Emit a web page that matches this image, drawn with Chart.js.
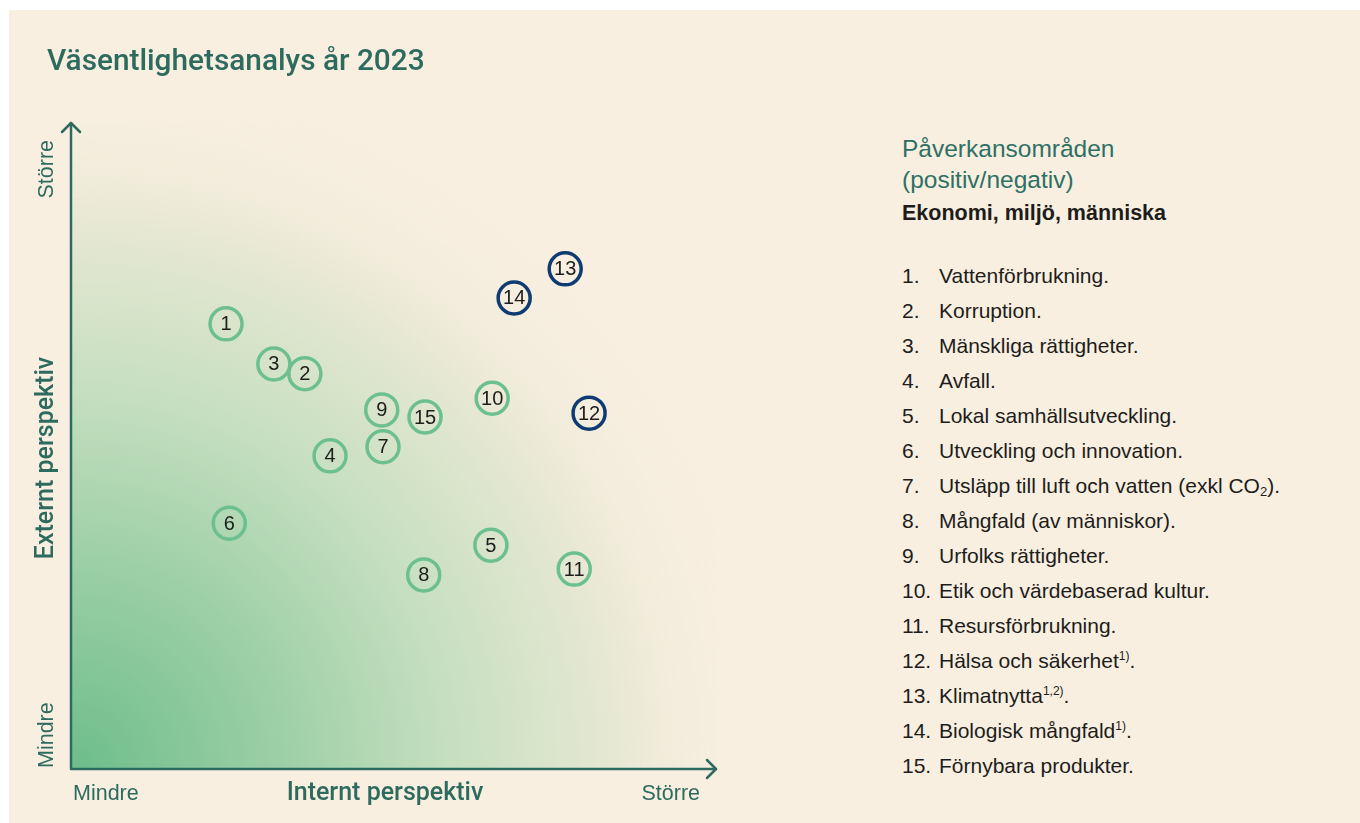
<!DOCTYPE html>
<html>
<head>
<meta charset="utf-8">
<script src="https://cdn.jsdelivr.net/npm/chart.js@4.4.1/dist/chart.umd.min.js"></script>
<style>
  body { margin: 0; width: 1360px; height: 823px; overflow: hidden; background: #fff;
         font-family: "Liberation Sans", Arial, sans-serif; }
  #panel { position: absolute; left: 9px; top: 10px; right: 0; bottom: 0; background: #f8efe0; }
  #matrix { position: absolute; left: 0; top: 0; }
  h1 { position: absolute; left: 47px; top: 43px; margin: 0; font-size: 29.8px; line-height: 34px;
       font-weight: 500; font-family: Roboto, "Liberation Sans", sans-serif; color: #2e6b5f; }
  #legend { position: absolute; left: 902px; top: 133px; width: 450px; }
  #legend .head { font-size: 24.5px; line-height: 31px; color: #2f7065; }
  #legend .sub { margin-top: 6px; font-size: 21.5px; line-height: 24px; font-weight: bold; color: #1d1d1b; }
  #legend ol { list-style: none; margin: 33px 0 0 0; padding: 0; }
  #legend li { font-size: 21px; line-height: 35px; height: 35px; color: #1d1d1b; position: relative; padding-left: 37px; white-space: nowrap; }
  #legend li span.n { position: absolute; left: 0; }
  #legend sup { font-size: 12px; vertical-align: 8px; line-height: 0; }
  #legend sub { font-size: 13px; vertical-align: -3px; line-height: 0; }
</style>
</head>
<body>
<div id="panel"></div>
<canvas id="matrix" width="860" height="823"></canvas>
<h1>Väsentlighetsanalys år 2023</h1>
<div id="legend">
  <div class="head">Påverkansområden<br>(positiv/negativ)</div>
  <div class="sub">Ekonomi, miljö, människa</div>
  <ol id="items"></ol>
</div>
<script>
// påverkansområden, numbered 1..15
const areaNames = [
  'Vattenförbrukning.',
  'Korruption.',
  'Mänskliga rättigheter.',
  'Avfall.',
  'Lokal samhällsutveckling.',
  'Utveckling och innovation.',
  'Utsläpp till luft och vatten (exkl CO<sub>2</sub>).',
  'Mångfald (av människor).',
  'Urfolks rättigheter.',
  'Etik och värdebaserad kultur.',
  'Resursförbrukning.',
  'Hälsa och säkerhet<sup>1)</sup>.',
  'Klimatnytta<sup>1,2)</sup>.',
  'Biologisk mångfald<sup>1)</sup>.',
  'Förnybara produkter.'
];
const areaNumbers = ['1','2','3','4','5','6','7','8','9','10','11','12','13','14','15'];
// internt perspektiv (0 = mindre, 10 = större)
const internal = [2.40, 3.62, 3.14, 4.01, 6.50, 2.45, 4.83, 5.46, 4.81, 6.52, 7.79, 8.02, 7.65, 6.86, 5.48];
// externt perspektiv (0 = mindre, 10 = större)
const external = [6.88, 6.11, 6.26, 4.84, 3.46, 3.80, 4.98, 3.00, 5.55, 5.73, 3.09, 5.50, 7.73, 7.28, 5.44];
// highlighted (navy) areas
const highlighted = [false, false, false, false, false, false, false, false, false, false, false, true, true, true, false];
const axisEnds = ['Mindre', 'Större'];

const GREEN = '#6cc08f';
const NAVY = '#0e3c72';
const AXIS = '#2e6b5f';

document.getElementById('items').innerHTML = areaNames
  .map((name, i) => `<li><span class="n">${areaNumbers[i]}.</span>${name}</li>`)
  .join('');

const backdrop = {
  id: 'backdrop',
  beforeDatasetsDraw(chart) {
    const { ctx, chartArea: a } = chart;
    ctx.save();
    const g = ctx.createRadialGradient(a.left, a.bottom, 0, a.left, a.bottom, 690);
    g.addColorStop(0, '#6dbd8b');
    g.addColorStop(0.3, '#9ccfa6');
    g.addColorStop(0.55, '#c6dfc0');
    g.addColorStop(0.8, '#e8e8d4');
    g.addColorStop(1, 'rgba(248,239,224,0)');
    ctx.fillStyle = g;
    ctx.fillRect(a.left, a.top, a.right - a.left, a.bottom - a.top);

    // axes with arrow heads
    ctx.strokeStyle = AXIS;
    ctx.lineWidth = 2.5;
    ctx.lineCap = 'round';
    ctx.lineJoin = 'round';
    ctx.beginPath();
    ctx.moveTo(a.left, a.top + 1);
    ctx.lineTo(a.left, a.bottom);
    ctx.lineTo(a.right - 1, a.bottom);
    ctx.stroke();
    ctx.beginPath();
    ctx.moveTo(a.left - 9, a.top + 10);
    ctx.lineTo(a.left, a.top + 1);
    ctx.lineTo(a.left + 9, a.top + 10);
    ctx.moveTo(a.right - 10, a.bottom - 9);
    ctx.lineTo(a.right - 1, a.bottom);
    ctx.lineTo(a.right - 10, a.bottom + 9);
    ctx.stroke();

    // axis texts
    ctx.fillStyle = AXIS;
    ctx.textBaseline = 'middle';
    ctx.font = '21.5px "Liberation Sans", Arial, sans-serif';
    ctx.textAlign = 'left';
    ctx.fillText(axisEnds[0], a.left + 2, a.bottom + 25);
    ctx.textAlign = 'right';
    ctx.fillText(axisEnds[1], a.right - 17, a.bottom + 25);
    ctx.textAlign = 'center';
    ctx.font = '500 25px Roboto, "Liberation Sans", sans-serif';
    ctx.fillText('Internt perspektiv', 385, a.bottom + 25);

    ctx.translate(47, 0);
    ctx.rotate(-Math.PI / 2);
    ctx.font = '21.5px "Liberation Sans", Arial, sans-serif';
    ctx.textAlign = 'left';
    ctx.fillText(axisEnds[0], -a.bottom + 1, 0);
    ctx.textAlign = 'right';
    ctx.fillText(axisEnds[1], -140, 0);
    ctx.textAlign = 'center';
    ctx.font = '500 25px Roboto, "Liberation Sans", sans-serif';
    ctx.fillText('Externt perspektiv', -458, 0);
    ctx.restore();
  }
};

const numbers = {
  id: 'numbers',
  afterDatasetsDraw(chart) {
    const { ctx } = chart;
    const meta = chart.getDatasetMeta(0);
    ctx.save();
    ctx.fillStyle = '#1d1d1b';
    ctx.font = '20px "Liberation Sans", Arial, sans-serif';
    ctx.textAlign = 'center';
    ctx.textBaseline = 'middle';
    meta.data.forEach((pt, i) => {
      ctx.fillText(areaNumbers[i], pt.x, pt.y + 1);
    });
    ctx.restore();
  }
};

new Chart(document.getElementById('matrix'), {
  type: 'scatter',
  data: {
    datasets: [{
      data: internal.map((x, i) => ({ x: x, y: external[i] })),
      pointRadius: 16,
      pointHoverRadius: 16,
      pointBorderWidth: 3.5,
      pointBackgroundColor: 'rgba(0,0,0,0)',
      pointBorderColor: highlighted.map(h => h ? NAVY : GREEN),
      clip: false
    }]
  },
  options: {
    responsive: false,
    animation: false,
    layout: { padding: { left: 71, top: 122, right: 143, bottom: 54 } },
    scales: {
      x: { min: 0, max: 10, display: false },
      y: { min: 0, max: 10, display: false }
    },
    plugins: { legend: { display: false }, tooltip: { enabled: false } }
  },
  plugins: [backdrop, numbers]
});
</script>
</body>
</html>
